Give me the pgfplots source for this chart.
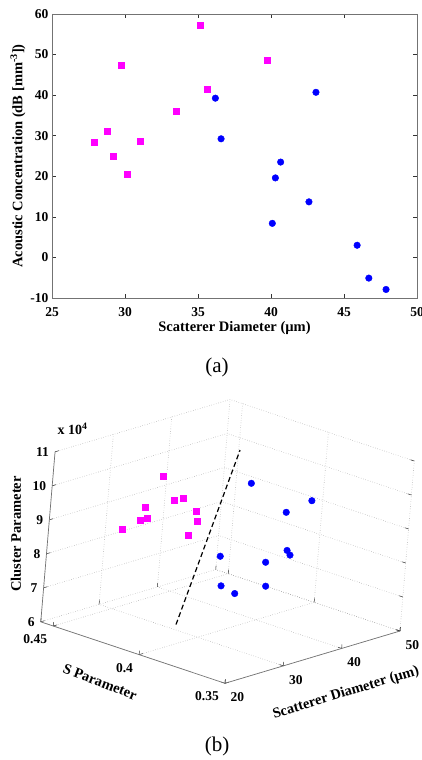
\documentclass[border=0pt]{standalone}
\usepackage{pgfplots}
\pgfplotsset{compat=1.18}
\usepackage{fontspec}
\setmainfont{Liberation Serif}

\definecolor{axgray}{gray}{0.45}
\definecolor{mag}{RGB}{255,0,255}
\definecolor{blu}{RGB}{0,0,255}

\tikzset{
  tickfont/.style={font=\bfseries\fontsize{13.5}{15}\selectfont},
  labfont/.style={font=\bfseries\fontsize{14.5}{16}\selectfont},
}

\begin{document}
\begin{tikzpicture}
\useasboundingbox (0pt,0pt) rectangle (422pt,760pt);

% ---- (a) 2-D scatter
\begin{axis}[
  at={(52pt,462pt)}, anchor=south west,
  width=365pt, height=284pt, scale only axis,
  xmin=25, xmax=50, ymin=-10, ymax=60,
  xtick={25,30,...,50}, ytick={-10,0,...,60},
  tick align=inside, tick pos=both,
  major tick length=4pt,
  axis line style={axgray, line width=0.8pt},
  major tick style={black!80, line width=0.5pt},
  /pgf/number format/assume math mode=true,
  ticklabel style={tickfont, inner sep=0pt},
  xticklabel style={anchor=north, yshift=-9pt},
  yticklabel style={anchor=east, xshift=-3.5pt},
  label style={labfont},
  xlabel={Scatterer Diameter (µm)},
  ylabel={Acoustic Concentration (dB [mm\textsuperscript{-3}])},
  xlabel style={at={(axis description cs:0.5,-0.1056)}, anchor=center},
  ylabel style={at={(axis description cs:-0.0932,0.5)}, anchor=center},
  clip=false,
]
\addplot[only marks, mark=square*, mark size=3pt, color=mag] coordinates {
  (27.88,28.3) (28.77,31.2) (29.18,24.9) (29.77,47.3) (30.16,20.6)
  (31.05,28.6) (33.49,36.1) (35.18,57.3) (35.66,41.5) (39.75,48.7)
};
\addplot[only marks, mark=*, mark size=3.3pt, color=blu] coordinates {
  (36.19,39.25) (36.58,29.24) (40.09,8.4) (40.3,19.6) (40.66,23.5)
  (42.6,13.7) (43.08,40.7) (45.9,3.0) (46.7,-5.1) (47.88,-7.9)
};
\end{axis}
\node[font=\fontsize{21}{23}\selectfont] at (217pt,393pt) {(a)};

% ---- (b) 3-D scatter
\begin{axis}[
  at={(225pt,76.7pt)}, anchor=origin,
  x={(5.833pt,1.743pt)}, y={(-1717pt,573pt)}, z={(2.86pt,34pt)},
  xmin=20, xmax=50, ymin=0.35, ymax=0.4573, zmin=6, zmax=11,
  xtick={20,30,40,50}, ytick={0.35,0.4,0.45}, ztick={6,...,11},
  grid=major, major grid style={dotted, gray!75, line width=0.6pt},
  axis line style={draw=none},
  tick pos=left,
  major tick length=4pt,
  major tick style={black!80, line width=0.5pt},
  /pgf/number format/assume math mode=true,
  ticklabel style={tickfont, inner sep=0pt},
  xticklabel style={anchor=north west, xshift=5.5pt, yshift=-9pt},
  yticklabel style={anchor=north east, xshift=-6pt, yshift=-8.5pt},
  zticklabel style={anchor=east, xshift=-6pt},
  clip=false,
]
\draw[axgray, line width=0.7pt] (axis cs:20,0.35,6) -- (axis cs:50,0.35,6);
\draw[axgray, line width=0.7pt] (axis cs:20,0.35,6) -- (axis cs:20,0.4573,6);
\draw[axgray, line width=0.7pt] (axis cs:20,0.4573,6) -- (axis cs:20,0.4573,11);
\addplot3[black, line width=1.2pt, dash pattern=on 5pt off 3pt] coordinates {
  (31.5,0.4176,6) (37.2,0.408,11)
};
\addplot3[only marks, mark=square*, mark size=3pt, color=mag] coordinates {
  (27.88,0.4409,8.61) (28.77,0.4342,8.94) (29.18,0.4334,9.29) (29.77,0.4334,8.96)
  (30.16,0.4275,10.26) (31.05,0.4230,9.58) (33.49,0.4257,9.49) (35.18,0.4271,8.29)
  (35.66,0.4252,9.00) (39.75,0.4373,8.29)
};
\addplot3[only marks, mark=*, mark size=3.3pt, color=blu] coordinates {
  (36.19,0.4109,7.88) (36.58,0.4103,7.00) (40.09,0.4135,6.54) (40.3,0.4100,9.83)
  (40.66,0.3993,7.67) (42.6,0.4044,6.78) (43.08,0.3978,9.04) (45.9,0.4046,7.66)
  (46.7,0.4053,7.47) (47.88,0.3993,9.11)
};
\end{axis}
\node[font=\bfseries\fontsize{14}{16}\selectfont, anchor=west] at (54pt,331pt) {x 10\textsuperscript{4}};
\node[labfont, rotate=90] at (16pt,226pt) {Cluster Parameter};
\node[labfont, rotate=-21] at (100pt,78pt) {S Parameter};
\node[labfont, rotate=17] at (346pt,67pt) {Scatterer Diameter (µm)};
\node[font=\fontsize{21}{23}\selectfont] at (217pt,13.3pt) {(b)};
\end{tikzpicture}
\end{document}
